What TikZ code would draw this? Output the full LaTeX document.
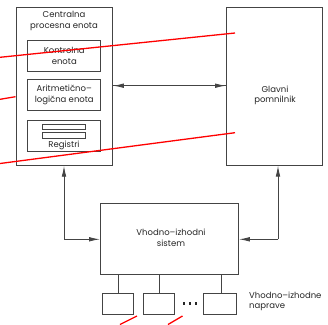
\documentclass[tikz,border=0pt]{standalone}
\usepackage{fontspec}
\setmainfont{Poppins}
\usetikzlibrary{arrows.meta}
\definecolor{linegray}{HTML}{444444}
\tikzset{
  box/.style={draw=linegray, line width=0.9pt, fill=white, inner sep=0pt, anchor=north west},
  txt/.style={font=\fontsize{8.5}{10.5}\selectfont, align=center, inner sep=0pt, text=black!85},
  conn/.style={draw=linegray, line width=0.9pt},
  arr/.style={-{Latex[length=11pt,width=4.6pt]}},
  redline/.style={draw=red, line width=1.3pt},
  dot/.style={fill=black!85, inner sep=0pt, minimum size=2.6pt, rectangle},
}
\begin{document}
\begin{tikzpicture}[x=1pt,y=-1pt]
\useasboundingbox (0,0) rectangle (328,324);
% boxes
\node[box, minimum width=96pt, minimum height=158pt] (cpu) at (16,6.8) {};
\node[txt] (cputitle) at (64,21) {Centralna\\procesna enota};
\node[box, minimum width=73pt, minimum height=31pt] (ku) at (27.3,40) {};
\node[txt] (kut) at (ku.center) {Kontrolna\\enota};
\node[box, minimum width=73pt, minimum height=31pt] (alu) at (27.3,79) {};
\node[txt] (alut) at (alu.center) {Aritmetično--\\logična enota};
\node[box, minimum width=73pt, minimum height=31pt] (reg) at (27.3,120) {};
\node[box, minimum width=43pt, minimum height=5.3pt, line width=0.7pt] (bar1) at (42.3,124) {};
\node[box, minimum width=43pt, minimum height=6pt, line width=0.7pt] (bar2) at (42.3,132) {};
\node[txt] (regt) at (64,145) {Registri};
\node[box, minimum width=95.7pt, minimum height=157.4pt] (mem) at (226,7.3) {};
\node[txt] (memt) at (275,95.5) {Glavni\\pomnilnik};
\node[box, minimum width=138pt, minimum height=71pt] (io) at (100,203) {};
\node[txt] (iot) at (171,238) {Vhodno--izhodni\\sistem};
\node[box, minimum width=31pt, minimum height=21pt] (d1) at (102,293) {};
\node[box, minimum width=31pt, minimum height=21pt] (d2) at (143,293) {};
\node[box, minimum width=33pt, minimum height=21pt] (d3) at (203,293) {};
\node[dot] (dotA) at (184,303.5) {};
\node[dot] (dotB) at (190,303.5) {};
\node[dot] (dotC) at (196,303.5) {};
\node[txt, align=left, anchor=west] (devt) at (249,301.5) {Vhodno--izhodne\\naprave};
% connectors
\draw[conn, arr] (cpu.east |- 0,85.7) coordinate (ca) -- (mem.west |- ca);
\draw[conn, arr] (mem.west |- ca) -- (ca);
\coordinate (lc) at (64,239.3);
\coordinate (rc) at (278,239.3);
\draw[conn, arr] (lc) -- (io.west |- lc);
\draw[conn, arr] (lc) -- (cpu.south -| lc);
\draw[conn, arr] (rc) -- (io.east |- rc);
\draw[conn, arr] (rc) -- (mem.south -| rc);
\draw[conn] (d1.north -| 118,0) -- (io.south -| 118,0);
\draw[conn] (d2.north -| 159,0) -- (io.south -| 159,0);
\draw[conn] (d3.north -| 221,0) -- (io.south -| 221,0);
% red strokes
\draw[redline] (0,57.3) -- (235,33);
\draw[redline] (0,99.3) -- (15.5,96.7);
\draw[redline] (0,163.5) -- (235,132.7);
\draw[redline] (120,324.5) -- (137,316);
\draw[redline] (168,324.5) -- (182.5,316);
\end{tikzpicture}
\end{document}
